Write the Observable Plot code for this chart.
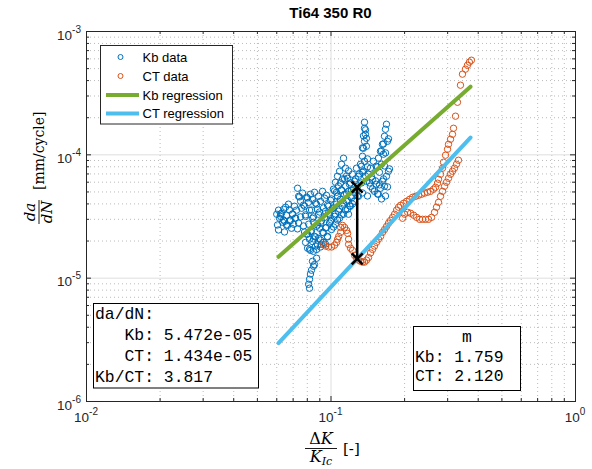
<!DOCTYPE html>
<html><head><meta charset="utf-8">
<script src="https://cdn.jsdelivr.net/npm/d3@7"></script>
<script src="https://cdn.jsdelivr.net/npm/@observablehq/plot@0.6"></script>
<style>body{margin:0;background:#fff}#chart svg{display:block}</style>
</head><body><div id="chart"></div>
<script>
const titleText = "Ti64 350 R0";
const kbX = [.0600,.0610,.0616,.0628,.0640,.0646,.0658,.0665,.0676,.0683,.0689,.0696,.0709,.0716,.0670,.0634,.0652,.0622,.0703,.0723,
.0730,.0737,.0751,.0765,.0780,.0795,.0810,.0824,.0840,.0856,.0873,.0889,.0906,.0923,.0941,.0958,.0976,.0996,.0758,.0817,.0880,.0950,
.0787,.0810,.0824,.0840,.0856,.0873,.0889,.0906,.0923,.0941,.0958,.0976,.0996,.1015,.1033,.1053,.1074,.1093,.1114,.1136,.1158,.1179,.1201,.0840,.0864,.0889,.0914,.0795,.0817,.0967,.1005,.1043,.1084,.1125,.1168,.0897,.0848,.1063,.1104,.1147,
.0787,.0802,.0824,.0848,.0873,.0906,.0932,
.0840,.0848,.0832,.0824,.0817,.0810,.0817,.0856,.0873,
.1023,.1043,.1063,.1084,.1104,.1125,.1147,.1168,.1190,.1224,.1247,.1271,.1295,.1320,.1345,.1371,.1053,.1136,.1213,.1283,
.1345,.1358,.1371,.1383,.1371,.1371,.1396,.1396,.1332,
.1533,.1563,.1593,.1623,.1655,.1670,.1686,.1702,.1639,.1608,.1578,
.1396,.1423,.1449,.1477,.1505,.1533,.1563,.1593,.1623,.1655,.1686,.1718,.1449,.1491,
.1201,.1247,.1295,.1179,
.06041,.06217,.06395,.06578,.06767,.06960,.07159,.07364,.07505,.06098,.06456,.07295,
.07434,.07720,.08016,.08325,.08645,.08976,.09319,.09677,.1005,.09861,.07867,.08483,
.07720,.08016,.08325,.08645,.08809,.09146,.09497,.09861,.1024,.1063,.1104,.1147,.1191,.09319,.09677,.08809,.08483,.08170,.1005,.1043,.1083,.1125,.1168,.1213,.09497,.09060,.07793,.1024,.1063,.1104,.1158,.1225,
.1034,.1073,.1115,.1158,.1202,.1236,.1260,.1308,.1333,.1358,.1384,.1410,.1437,.1465,.1180,.1094,.1284,.1345,.1410,.1479,
.1358,.1384,.1410,.1345,.1609,.1640,.1671,.1719,.1550,.1655,
.1521,.1579,.1640,.1703,.1671,.1609,.1550,.1735];
const kbY = [3.30e-5,3.56e-5,3.06e-5,3.36e-5,3.62e-5,2.89e-5,3.24e-5,2.68e-5,3.56e-5,2.94e-5,2.54e-5,3.30e-5,3.83e-5,3.06e-5,3.98e-5,2.84e-5,3.76e-5,3.17e-5,2.74e-5,3.56e-5,
5.36e-5,4.61e-5,4.20e-5,4.89e-5,3.83e-5,4.53e-5,4.12e-5,4.79e-5,4.36e-5,4.97e-5,3.97e-5,4.61e-5,4.20e-5,5.06e-5,4.45e-5,4.70e-5,3.83e-5,4.28e-5,3.69e-5,3.56e-5,3.62e-5,3.49e-5,
3.17e-5,2.74e-5,2.39e-5,3.06e-5,2.18e-5,2.63e-5,3.30e-5,2.79e-5,2.35e-5,3.11e-5,2.58e-5,3.36e-5,2.89e-5,3.69e-5,3.17e-5,3.98e-5,3.49e-5,4.36e-5,3.83e-5,4.79e-5,4.20e-5,5.06e-5,4.61e-5,1.98e-5,1.82e-5,2.10e-5,1.88e-5,2.27e-5,2.07e-5,2.18e-5,2.48e-5,2.74e-5,3.06e-5,3.30e-5,3.62e-5,2.54e-5,2.84e-5,4.61e-5,5.17e-5,5.56e-5,
1.95e-5,1.75e-5,1.68e-5,1.65e-5,1.71e-5,1.79e-5,1.95e-5,
1.37e-5,1.25e-5,1.16e-5,1.08e-5,9.80e-6,8.93e-6,8.29e-6,1.29e-5,1.45e-5,
5.26e-5,5.99e-5,6.70e-5,7.36e-5,8.39e-5,9.39e-5,7.79e-5,6.45e-5,5.77e-5,6.96e-5,6.11e-5,7.79e-5,6.70e-5,8.39e-5,7.22e-5,8.87e-5,4.97e-5,6.34e-5,5.17e-5,5.56e-5,
9.74e-5,1.131e-4,1.288e-4,1.467e-4,1.642e-4,1.838e-4,1.173e-4,1.362e-4,8.08e-5,
8.08e-5,9.39e-5,1.068e-4,1.217e-4,1.415e-4,1.612e-4,1.770e-4,1.288e-4,1.012e-4,8.39e-5,7.22e-5,
6.11e-5,6.96e-5,5.56e-5,6.34e-5,5.06e-5,5.77e-5,4.79e-5,5.36e-5,6.11e-5,5.56e-5,6.70e-5,7.36e-5,7.79e-5,8.87e-5,
3.83e-5,4.20e-5,4.61e-5,3.30e-5,
2.70e-5,3.32e-5,2.96e-5,2.70e-5,2.91e-5,3.32e-5,3.08e-5,2.80e-5,3.14e-5,2.46e-5,2.37e-5,2.51e-5,
4.56e-5,3.92e-5,4.47e-5,3.57e-5,4.07e-5,3.44e-5,3.71e-5,3.92e-5,4.39e-5,3.26e-5,3.26e-5,3.14e-5,
2.65e-5,2.28e-5,2.415e-5,2.16e-5,2.70e-5,2.91e-5,2.55e-5,2.80e-5,2.60e-5,2.96e-5,3.26e-5,3.58e-5,3.85e-5,2.33e-5,2.16e-5,1.86e-5,2.08e-5,1.72e-5,2.96e-5,3.32e-5,3.64e-5,4.07e-5,4.31e-5,4.47e-5,1.89e-5,2.04e-5,2.37e-5,3.71e-5,4.64e-5,5.20e-5,4.82e-5,4.00e-5,
5.10e-5,5.60e-5,6.38e-5,6.75e-5,5.92e-5,5.20e-5,6.38e-5,7.01e-5,5.92e-5,7.41e-5,6.75e-5,7.98e-5,5.92e-5,6.62e-5,7.41e-5,5.92e-5,4.64e-5,4.91e-5,4.64e-5,5.29e-5,
1.425e-4,1.595e-4,9.27e-5,1.139e-4,1.077e-4,1.227e-4,1.037e-4,1.348e-4,7.98e-5,8.13e-5,
6.15e-5,5.71e-5,6.38e-5,5.50e-5,4.64e-5,4.39e-5,4.82e-5,7.69e-5];
const ctX = [.0933,.0951,.0977,.1006,.1034,.1054,.1064,.1075,.1095,.1095,.1115,.1137,.1159,.1170,.1180,.1180,.1202,.1225,.1249,.1272,.1296,.1322,.1346,.1372,.1398,.1424,.1451,.1479,.1506,.1535,.1564,.1595,.1625,.1656,.1688,.1719,.1752,.1786,.1819,.1854,.1889,.1925,.1982,.2038,.2097,.2157,.2218,.2281,.2347,.2413,.2482,.2553,.2626,.2676,.2727,.2753,.2805,.2858,.2885,.2940,.2996,.3024,.3082,.3140,.3170,.3230,.3291,.3385,.3449,.3547,.3614,.3682,.3752,
.1963,.2001,.2058,.2116,.2177,.2239,.2303,.2368,.2435,.2506,.2577,.2651,.2701,.2753,.2805,.2858,.2913,.2968,.3024,.3082,.3140,.3199,.3260,.3322];
const ctY = [1.88e-5,1.82e-5,1.79e-5,1.79e-5,1.85e-5,1.95e-5,2.07e-5,2.18e-5,2.35e-5,2.58e-5,2.68e-5,2.58e-5,2.44e-5,2.31e-5,2.07e-5,1.88e-5,1.75e-5,1.68e-5,1.53e-5,1.45e-5,1.40e-5,1.37e-5,1.35e-5,1.35e-5,1.40e-5,1.47e-5,1.60e-5,1.71e-5,1.82e-5,1.95e-5,2.07e-5,2.18e-5,2.35e-5,2.48e-5,2.63e-5,2.79e-5,2.94e-5,3.11e-5,3.30e-5,3.56e-5,3.76e-5,3.90e-5,4.05e-5,4.20e-5,4.36e-5,4.53e-5,4.61e-5,4.70e-5,4.79e-5,4.89e-5,4.97e-5,5.06e-5,5.26e-5,5.46e-5,5.89e-5,6.34e-5,6.96e-5,7.79e-5,8.71e-5,9.93e-5,1.110e-4,1.217e-4,1.337e-4,1.467e-4,1.642e-4,2.057e-4,2.668e-4,3.670e-4,4.51e-4,4.95e-4,5.32e-4,5.64e-4,5.85e-4,
3.06e-5,3.30e-5,3.42e-5,3.36e-5,3.24e-5,3.11e-5,3.00e-5,3.00e-5,3.00e-5,3.00e-5,3.11e-5,3.42e-5,3.76e-5,4.12e-5,4.61e-5,5.06e-5,5.56e-5,5.99e-5,6.45e-5,6.96e-5,7.36e-5,7.79e-5,8.39e-5,9.04e-5];
const regX = [0.061, 0.372];
const kbRegY = [1.49e-5, 3.57e-4];
const ctRegY = [2.98e-6, 1.38e-4];
const markX = 0.128;
const markY = [1.434e-5, 5.472e-5];
const xMajor = [0.01, 0.1, 1];
const xMinor = [0.02,0.03,0.04,0.05,0.06,0.07,0.08,0.09,0.2,0.3,0.4,0.5,0.6,0.7,0.8,0.9];
const yMajor = [1e-6, 1e-5, 1e-4, 1e-3];
const yMinor = [2e-6,3e-6,4e-6,5e-6,6e-6,7e-6,8e-6,9e-6,2e-5,3e-5,4e-5,5e-5,6e-5,7e-5,8e-5,9e-5,2e-4,3e-4,4e-4,5e-4,6e-4,7e-4,8e-4,9e-4];
const xTickExp = ["-2", "-1", "0"];
const yTickExp = ["-6", "-5", "-4", "-3"];
const legendLabels = ["Kb data", "CT data", "Kb regression", "CT regression"];
const rateLines = ["da/dN:", "   Kb: 5.472e-05", "   CT: 1.434e-05", "Kb/CT: 3.817"];
const slopeLines = ["m", "Kb: 1.759", "CT: 2.120"];

const C = {kb:"#0072BD", ct:"#D95319", kbReg:"#77AC30", ctReg:"#4DBEEE", ax:"#262626"};
const W = 592, H = 469, mL = 86, mR = 17, mT = 31, mB = 68;
const fw = W - mL - mR, fh = H - mT - mB;
const zip = (xs, ys) => xs.slice(0, Math.min(xs.length, ys.length)).map((x, i) => ({x, y: ys[i]}));
const kb = zip(kbX, kbY), ct = zip(ctX, ctY);
const kbReg = zip(regX, kbRegY), ctReg = zip(regX, ctRegY);
const marks = markY.map(y => ({x: markX, y}));

const plot = Plot.plot({
  width: W, height: H, marginLeft: mL, marginRight: mR, marginTop: mT, marginBottom: mB,
  x: {type: "log", domain: [1e-2, 1], axis: null},
  y: {type: "log", domain: [1e-6, 1e-3], axis: null},
  style: {background: "#fff", overflow: "visible"},
  marks: [
    Plot.ruleX(xMinor, {stroke: "#a8a8a8", strokeDasharray: "1,3", strokeWidth: 0.8}),
    Plot.ruleY(yMinor, {stroke: "#a8a8a8", strokeDasharray: "1,3", strokeWidth: 0.8}),
    Plot.ruleX(xMajor, {stroke: "#dedede", strokeWidth: 1}),
    Plot.ruleY(yMajor, {stroke: "#dedede", strokeWidth: 1}),
    Plot.dot(kb, {x: "x", y: "y", r: 3.2, stroke: C.kb, strokeWidth: 1, fill: "none"}),
    Plot.dot(ct, {x: "x", y: "y", r: 3.2, stroke: C.ct, strokeWidth: 1, fill: "none"}),
    Plot.line(kbReg, {x: "x", y: "y", stroke: C.kbReg, strokeWidth: 4}),
    Plot.line(ctReg, {x: "x", y: "y", stroke: C.ctReg, strokeWidth: 4}),
    Plot.ruleX([markX], {y1: markY[0], y2: markY[1], stroke: "#000", strokeWidth: 2.5}),
    Plot.dot(marks, {x: "x", y: "y", symbol: "times", r: 5, stroke: "#000", strokeWidth: 2.5}),
    Plot.ruleX(xMajor, {stroke: C.ax, insetTop: fh - 5}),
    Plot.ruleX(xMajor, {stroke: C.ax, insetBottom: fh - 5}),
    Plot.ruleX(xMinor, {stroke: C.ax, insetTop: fh - 3}),
    Plot.ruleX(xMinor, {stroke: C.ax, insetBottom: fh - 3}),
    Plot.ruleY(yMajor, {stroke: C.ax, insetRight: fw - 5}),
    Plot.ruleY(yMajor, {stroke: C.ax, insetLeft: fw - 5}),
    Plot.ruleY(yMinor, {stroke: C.ax, insetRight: fw - 3}),
    Plot.ruleY(yMinor, {stroke: C.ax, insetLeft: fw - 3}),
    Plot.frame({stroke: C.ax, strokeWidth: 1})
  ]
});
document.getElementById("chart").appendChild(plot);

const svg = d3.select(plot);
const sx = plot.scale("x"), sy = plot.scale("y");
const sans = "'Liberation Sans', Arial, Helvetica, sans-serif";
const serif = "'DejaVu Serif', 'Liberation Serif', serif";
const mono = "'Liberation Mono', 'Courier New', monospace";

svg.append("text").attr("x", mL + fw / 2).attr("y", 18).attr("text-anchor", "middle")
  .attr("font-family", sans).attr("font-weight", "bold").attr("font-size", 15).attr("fill", "#000").text(titleText);

xMajor.forEach((v, i) => {
  const t = svg.append("text").attr("x", sx.apply(v)).attr("y", 422).attr("text-anchor", "middle")
    .attr("font-family", sans).attr("font-size", 13.5).attr("fill", C.ax);
  t.append("tspan").text("10");
  t.append("tspan").attr("dy", -7).attr("font-size", 10).text(xTickExp[i]);
});
yMajor.forEach((v, i) => {
  const t = svg.append("text").attr("x", 81).attr("y", sy.apply(v) + 8.5).attr("text-anchor", "end")
    .attr("font-family", sans).attr("font-size", 13.5).attr("fill", C.ax);
  t.append("tspan").text("10");
  t.append("tspan").attr("dy", -7).attr("font-size", 10).text(yTickExp[i]);
});

const gx = svg.append("g").attr("font-family", serif).attr("fill", "#000");
gx.append("text").attr("x", 321).attr("y", 444).attr("text-anchor", "middle").attr("font-size", 16)
  .html('Δ<tspan font-style="italic">K</tspan>');
gx.append("line").attr("x1", 305).attr("x2", 337).attr("y1", 448.5).attr("y2", 448.5).attr("stroke", "#000").attr("stroke-width", 0.9);
gx.append("text").attr("x", 321).attr("y", 462).attr("text-anchor", "middle").attr("font-size", 16)
  .html('<tspan font-style="italic">K</tspan><tspan font-style="italic" font-size="11" dy="3">Ic</tspan>');
gx.append("text").attr("x", 343).attr("y", 453.5).attr("text-anchor", "start").attr("font-size", 15).text("[-]");

const gy = svg.append("g").attr("transform", "translate(40,212) rotate(-90)").attr("font-family", serif).attr("fill", "#000");
gy.append("text").attr("x", 0).attr("y", -5).attr("text-anchor", "middle").attr("font-size", 15).attr("font-style", "italic").text("da");
gy.append("line").attr("x1", -12).attr("x2", 12).attr("y1", -1).attr("y2", -1).attr("stroke", "#000").attr("stroke-width", 0.9);
gy.append("text").attr("x", 0).attr("y", 11.5).attr("text-anchor", "middle").attr("font-size", 15).attr("font-style", "italic").text("dN");
gy.append("text").attr("x", 22).attr("y", 4).attr("text-anchor", "start").attr("font-size", 14).text("[mm/cycle]");

const lg = svg.append("g").attr("font-family", sans).attr("font-size", 13).attr("fill", "#000").attr("text-anchor", "start");
lg.append("rect").attr("x", 100.5).attr("y", 45.5).attr("width", 132).attr("height", 78.5)
  .attr("fill", "#fff").attr("stroke", C.ax).attr("stroke-width", 1);
const rowsY = [57, 76, 95, 113.5];
[C.kb, C.ct].forEach((c, i) => lg.append("circle").attr("cx", 120.5).attr("cy", rowsY[i]).attr("r", 2.5)
  .attr("fill", "none").attr("stroke", c).attr("stroke-width", 1));
[C.kbReg, C.ctReg].forEach((c, i) => lg.append("line").attr("x1", 106).attr("x2", 139).attr("y1", rowsY[i + 2]).attr("y2", rowsY[i + 2])
  .attr("stroke", c).attr("stroke-width", 4));
legendLabels.forEach((s, i) => lg.append("text").attr("x", 142.5).attr("y", rowsY[i] + 4.7).attr("text-anchor", "start").text(s));

function box(x, y, w, h, lines, rowY, anchors) {
  const g = svg.append("g").attr("font-family", mono).attr("font-size", 16.4).attr("fill", "#000");
  g.append("rect").attr("x", x).attr("y", y).attr("width", w).attr("height", h).attr("fill", "#fff").attr("stroke", "#000").attr("stroke-width", 1);
  lines.forEach((s, i) => g.append("text").attr("x", anchors[i][0]).attr("y", rowY[i]).attr("text-anchor", anchors[i][1])
    .attr("xml:space", "preserve").style("white-space", "pre").text(s));
}
box(93.5, 303.5, 165, 84.5, rateLines, [319, 340, 361, 382], rateLines.map(() => [95, "start"]));
box(413.5, 326.5, 107, 64, slopeLines, [342, 362, 381], [[467, "middle"], [415, "start"], [415, "start"]]);
</script>
</body></html>
